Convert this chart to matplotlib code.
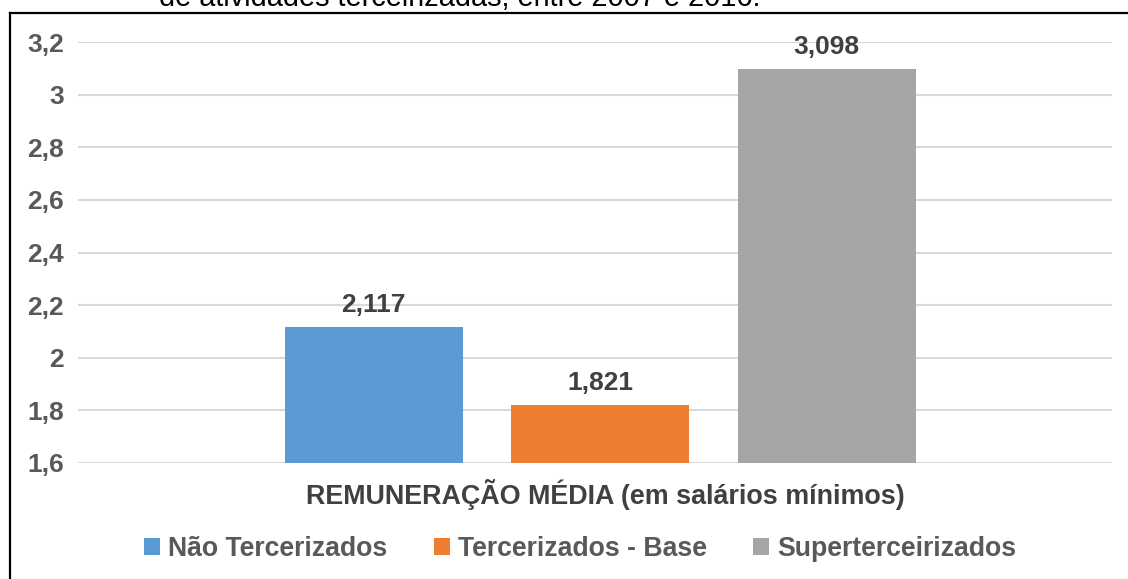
import numpy as np
import matplotlib.pyplot as plt
from matplotlib.lines import Line2D

plt.rcParams['font.family'] = ['Liberation Sans', 'DejaVu Sans']

# Data
series = ['Não Tercerizados', 'Tercerizados - Base', 'Superterceirizados']
values = [2.117, 1.821, 3.098]
colors = ['#5B9BD5', '#ED7D31', '#A5A5A5']
category = 'REMUNERAÇÃO MÉDIA (em salários mínimos)'
yticks = [1.6, 1.8, 2.0, 2.2, 2.4, 2.6, 2.8, 3.0, 3.2]

W, H = 1128, 579
fig = plt.figure(figsize=(W / 100, H / 100), dpi=100)
ax = fig.add_axes([78 / W, 1 - 463 / H, (1112 - 78) / W, (463 - 42) / H])

bar_w = 0.172
step = 0.219
for i, (name, v, c) in enumerate(zip(series, values, colors)):
    x = (i - 1) * step + 0.005
    ax.bar(x, v - 1.6, bottom=1.6, width=bar_w, color=c, label=name, zorder=2)
    ax.annotate(f'{v:.3f}'.replace('.', ','), (x, v), xytext=(0, 11),
                textcoords='offset points', ha='center', va='baseline',
                fontsize=19, fontweight='bold', color='#404040')

ax.set_xlim(-0.5, 0.5)
ax.set_ylim(1.6, 3.2)
ax.set_yticks(yticks)
ax.set_yticklabels([f'{t:g}'.replace('.', ',') for t in yticks],
                   fontsize=19, fontweight='bold', color='#595959')
ax.tick_params(axis='y', length=0, pad=10)
ax.set_xticks([])
ax.grid(axis='y', color='#D9D9D9', linewidth=1.5, zorder=0)
for s in ax.spines.values():
    s.set_visible(False)

fig.text(605 / W, 1 - 494 / H, category, ha='center', va='center',
         fontsize=19.4, fontweight='bold', color='#404040')

fig.legend(loc='center', bbox_to_anchor=(580 / W, 1 - 549 / H), ncol=3,
           frameon=False, handlelength=0.6, handleheight=0.6,
           handletextpad=0.3, columnspacing=1.75,
           prop={'size': 19.2, 'weight': 'bold'}, labelcolor='#595959')

# cut-off caption above the chart box
fig.text(460 / W, 1 - 6 / H, 'de atividades terceirizadas, entre 2007 e 2016.',
         ha='center', va='baseline', fontsize=20.8, color='black')

# chart border (top and left edges visible)
fig.add_artist(Line2D([10 / W, 1], [1 - 13 / H, 1 - 13 / H], color='black', lw=1.6))
fig.add_artist(Line2D([10 / W, 10 / W], [0, 1 - 13 / H], color='black', lw=1.6))

fig.savefig('out.png', dpi=100)
